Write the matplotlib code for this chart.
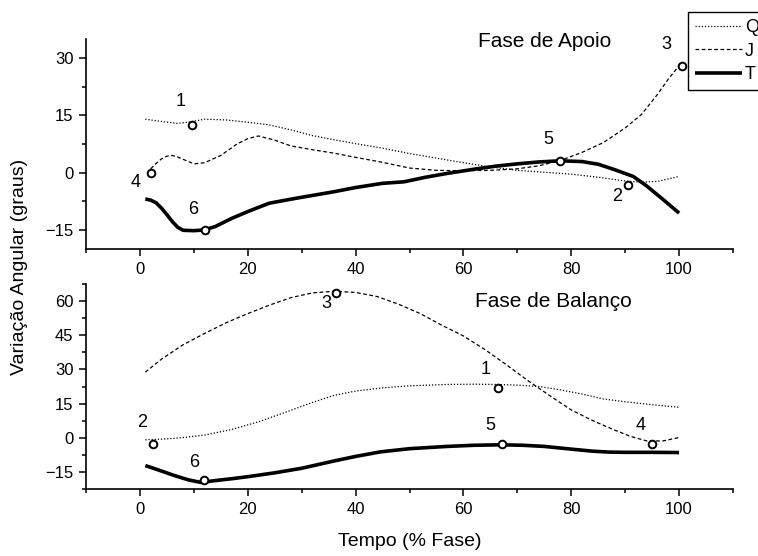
import numpy as np
import matplotlib
matplotlib.use("Agg")
import matplotlib.pyplot as plt
from matplotlib.ticker import MultipleLocator

plt.rcParams['font.family'] = ['Liberation Sans', 'DejaVu Sans']

# --- Fase de Apoio (top) ---
apoio_q_x = [1, 4, 7, 9, 12, 16, 20, 24, 28, 32, 36, 40, 45, 50, 55, 60, 65, 70, 75, 80, 85, 90, 93, 96, 100]
apoio_q_y = [14.0, 13.4, 12.9, 13.2, 14.0, 13.8, 13.2, 12.5, 11.2, 9.7, 8.6, 7.6, 6.4, 5.0, 3.8, 2.6, 1.5, 0.6, 0.1, -0.4, -1.2, -2.2, -2.5, -2.3, -1.0]

apoio_j_x = [2, 3, 4, 5, 6, 7, 8, 10, 12, 15, 18, 20, 22, 25, 28, 32, 36, 40, 45, 50, 55, 60, 65, 70, 74, 78, 82, 86, 90, 93, 96, 98, 100]
apoio_j_y = [1.0, 2.4, 3.6, 4.3, 4.5, 4.1, 3.5, 2.3, 2.6, 4.5, 7.5, 8.9, 9.6, 8.5, 7.0, 6.0, 5.1, 4.0, 2.7, 1.2, 0.6, 0.5, 0.6, 1.0, 1.8, 3.2, 5.3, 7.9, 11.7, 15.2, 20.5, 24.5, 28.0]

apoio_t_x = [1, 2, 3, 4, 5, 6, 7, 8, 10, 12, 14, 17, 20, 24, 29, 36, 40, 45, 49, 53, 57, 62, 66, 70, 74, 78, 82, 85, 88, 91.5, 94, 97, 100]
apoio_t_y = [-6.9, -7.2, -7.9, -9.3, -11.0, -12.8, -14.3, -15.1, -15.2, -15.0, -14.1, -12.0, -10.2, -8.0, -6.7, -5.0, -3.9, -2.8, -2.4, -1.2, -0.2, 0.9, 1.7, 2.3, 2.8, 3.1, 2.9, 2.2, 0.8, -1.0, -3.5, -7.0, -10.6]

apoio_pts_lbl = ['1', '2', '3', '4', '5', '6']
apoio_pts_x = [9.6, 90.6, 100.5, 2.0, 78.0, 12.0]
apoio_pts_y = [12.5, -3.2, 27.8, 0.0, 3.1, -15.0]

# --- Fase de Balanço (bottom) ---
balanco_q_x = [1, 5, 8, 12, 17, 22, 27, 32, 36, 40, 45, 50, 57, 62, 66, 70, 74, 78, 82, 86, 90, 95, 100]
balanco_q_y = [-0.9, -0.5, 0.1, 1.2, 3.6, 7.0, 11.2, 15.5, 18.6, 20.5, 21.9, 22.8, 23.4, 23.5, 23.4, 23.1, 22.5, 21.0, 19.2, 17.0, 15.8, 14.5, 13.4]

balanco_j_x = [1, 4, 8, 12, 16, 20, 24, 28, 32, 36, 40, 44, 48, 52, 56, 60, 64, 68, 72, 76, 80, 84, 88, 91, 94, 97, 100]
balanco_j_y = [28.8, 34.5, 40.8, 45.8, 50.5, 54.5, 58.2, 61.5, 63.6, 64.3, 63.8, 62.0, 58.6, 54.5, 49.4, 44.7, 38.7, 32.0, 25.0, 18.5, 12.2, 7.5, 3.4, 0.6, -1.4, -1.4, 0.1]

balanco_t_x = [1, 3, 6.4, 9, 11.3, 14, 17, 20, 25, 30, 36, 40, 44.6, 50, 57, 62, 67, 71, 75, 80, 84, 87, 90, 95, 100]
balanco_t_y = [-12.2, -13.8, -16.6, -18.5, -19.6, -18.8, -18.0, -17.1, -15.4, -13.4, -10.2, -8.2, -6.2, -4.8, -3.8, -3.3, -3.1, -3.3, -3.8, -5.0, -5.9, -6.3, -6.4, -6.4, -6.5]

balanco_pts_lbl = ['1', '2', '3', '4', '5', '6']
balanco_pts_x = [66.4, 2.5, 36.3, 94.9, 67.2, 11.8]
balanco_pts_y = [21.9, -2.6, 63.4, -2.8, -2.8, -18.5]

legend_labels = ['Q', 'J', 'T']

# label offsets in pixels relative to each marker
apoio_offsets = [(-11, 23), (-11, -12), (-15, 22), (-15, -10), (-12, 21), (-11, 20)]
balanco_offsets = [(-12, 18), (-11, 21), (-9, -10), (-11, 19), (-12, 19), (-9, 17)]


def style_axes(ax, ylim, ymajor):
    ax.set_xlim(-10, 110)
    ax.set_ylim(*ylim)
    ax.spines['top'].set_visible(False)
    ax.spines['right'].set_visible(False)
    ax.spines['left'].set_linewidth(1.2)
    ax.spines['bottom'].set_linewidth(1.2)
    ax.xaxis.set_major_locator(MultipleLocator(20))
    ax.xaxis.set_minor_locator(MultipleLocator(10))
    ax.yaxis.set_major_locator(MultipleLocator(ymajor))
    ax.yaxis.set_minor_locator(MultipleLocator(ymajor / 2))
    ax.tick_params(which='major', direction='out', length=5, width=1.1, labelsize=12, pad=4)
    ax.tick_params(which='minor', direction='out', length=3, width=1.1)
    ax.set_xticks([0, 20, 40, 60, 80, 100])


def draw_panel(ax, qx, qy, jx, jy, tx, ty, px, py, lbl, offs):
    lq, = ax.plot(qx, qy, color='black', lw=0.9, ls=(0, (1, 1.5)))
    lj, = ax.plot(jx, jy, color='black', lw=0.9, ls=(0, (3, 2)))
    lt, = ax.plot(tx, ty, color='black', lw=2.6, solid_capstyle='butt')
    ax.plot(px, py, 'o', ms=5.5, mfc='white', mec='black', mew=1.4, zorder=5)
    for x, y, s, off in zip(px, py, lbl, offs):
        ax.annotate(s, (x, y), xytext=off, textcoords='offset pixels',
                    ha='center', va='center', fontsize=13)
    return lq, lj, lt


fig = plt.figure(figsize=(7.58, 5.56), dpi=100)
ax1 = fig.add_axes([86 / 758, 1 - 249 / 556, 647 / 758, 210 / 556])
ax2 = fig.add_axes([86 / 758, 1 - 489 / 556, 647 / 758, 205 / 556])

handles = draw_panel(ax1, apoio_q_x, apoio_q_y, apoio_j_x, apoio_j_y, apoio_t_x, apoio_t_y,
                     apoio_pts_x, apoio_pts_y, apoio_pts_lbl, apoio_offsets)
draw_panel(ax2, balanco_q_x, balanco_q_y, balanco_j_x, balanco_j_y, balanco_t_x, balanco_t_y,
           balanco_pts_x, balanco_pts_y, balanco_pts_lbl, balanco_offsets)

style_axes(ax1, (-20, 35), 15)
style_axes(ax2, (-22.5, 67.5), 15)
ax1.set_yticks([-15, 0, 15, 30])
ax2.set_yticks([-15, 0, 15, 30, 45, 60])

ax1.text(0.709, 0.99, 'Fase de Apoio', transform=ax1.transAxes, ha='center', va='center', fontsize=15)
ax2.text(0.722, 0.914, 'Fase de Balanço', transform=ax2.transAxes, ha='center', va='center', fontsize=15)

fig.text(20 / 758, 1 - 267 / 556, 'Variação Angular (graus)', rotation=90,
         ha='center', va='center', fontsize=14)
fig.text(409.5 / 758, 1 - 541 / 556, 'Tempo (% Fase)', ha='center', va='center', fontsize=14)

# legend box sits against the right edge of the figure, as in the original
leg = fig.legend(handles, legend_labels, loc='upper left',
                 bbox_to_anchor=(688 / 758, 1 - 12 / 556), fontsize=13,
                 frameon=True, fancybox=False, framealpha=1, edgecolor='black',
                 handlelength=2.6, handletextpad=0.15, borderpad=0.4,
                 labelspacing=0.36, borderaxespad=0)
leg.get_frame().set_linewidth(1.0)

fig.savefig('out.png', dpi=100)
